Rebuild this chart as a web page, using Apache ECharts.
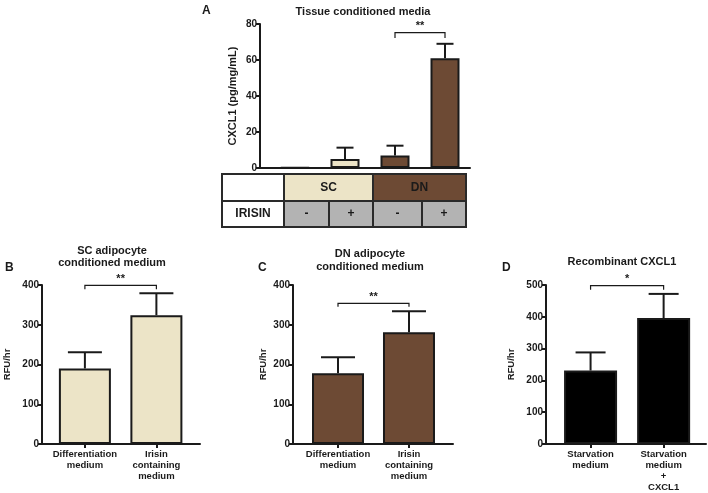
<!DOCTYPE html>
<html>
<head>
<meta charset="utf-8">
<script src="https://cdn.jsdelivr.net/npm/echarts@6/dist/echarts.min.js"></script>
<style>html,body{margin:0;padding:0;background:#fff}#c{width:708px;height:493px}</style>
</head>
<body>
<div id="c"></div>
<script>
// ---- data ----
const groupsA = ['SC -', 'SC +', 'DN -', 'DN +'];
const meanA = [0.3, 5, 7, 61];
const semA = [0, 6.3, 5.4, 8];
const tableHead = ['SC', 'DN'];
const irisinRow = ['-', '+', '-', '+'];

const catsB = ['Differentiation\nmedium', 'Irisin\ncontaining\nmedium'];
const meanB = [190, 324];
const semB = [41, 55];

const catsC = ['Differentiation\nmedium', 'Irisin\ncontaining\nmedium'];
const meanC = [178, 281];
const semC = [40, 53];

const catsD = ['Starvation\nmedium', 'Starvation\nmedium\n+\nCXCL1'];
const meanD = [231, 396];
const semD = [57, 76];

const ticksA = [0, 20, 40, 60, 80];
const ticksB = [0, 100, 200, 300, 400];
const ticksC = [0, 100, 200, 300, 400];
const ticksD = [0, 100, 200, 300, 400, 500];

const sigA = [[2, 3, 75.2, 3, '**']];
const sigB = [[0, 1, 399, 10, '**']];
const sigC = [[0, 1, 354, 9, '**']];
const sigD = [[0, 1, 498, 13, '*']];

// ---- styles ----
const FONT = 'Liberation Sans, Arial, Helvetica, sans-serif';
const INK = '#1a1a1a';
const BEIGE = '#ECE4C7';
const BROWN = '#6D4A34';
const GREY = '#B3B3B3';

const panels = [
  {grid:{left:260, top:24, width:210, height:144}, xmin:-0.7, xmax:3.5, ticks:ticksA,
   names:null, means:meanA, sems:semA, colors:[INK, BEIGE, BROWN, BROWN], barWidth:29, cap:17,
   sig:sigA, yName:'CXCL1 (pg/mg/mL)', nameGap:22, nameSize:11},
  {grid:{left:42, top:285, width:158, height:159}, xmin:-0.6, xmax:1.61, ticks:ticksB,
   names:catsB, means:meanB, sems:semB, colors:[BEIGE, BEIGE], barWidth:52, cap:34,
   sig:sigB, yName:'RFU/hr', nameGap:30, nameSize:9.5},
  {grid:{left:293, top:285, width:160, height:159}, xmin:-0.634, xmax:1.62, ticks:ticksC,
   names:catsC, means:meanC, sems:semC, colors:[BROWN, BROWN], barWidth:52, cap:34,
   sig:sigC, yName:'RFU/hr', nameGap:25, nameSize:9.5},
  {grid:{left:546, top:285, width:160, height:160}, xmin:-0.61, xmax:1.58, ticks:ticksD,
   names:catsD, means:meanD, sems:semD, colors:['#000', '#000'], barWidth:53, cap:30,
   sig:sigD, yName:'RFU/hr', nameGap:30, nameSize:9.5}
];

function errRender(cap) {
  return function (params, api) {
    const x = api.value(0), m = api.value(1), s = api.value(2);
    if (!s) return null;
    const a = api.coord([x, m]), b = api.coord([x, m + s]);
    return {type:'group', children:[
      {type:'line', shape:{x1:a[0], y1:a[1], x2:b[0], y2:b[1]}, style:{stroke:INK, lineWidth:2}},
      {type:'line', shape:{x1:b[0]-cap/2, y1:b[1], x2:b[0]+cap/2, y2:b[1]}, style:{stroke:INK, lineWidth:2}}
    ]};
  };
}
function sigRender(params, api) {
  const f = api.value(0), t = api.value(1), y = api.value(2), d = api.value(3);
  const label = sigData[params.seriesIndex][params.dataIndex][4];
  const p1 = api.coord([f, y - d]), p2 = api.coord([f, y]), p3 = api.coord([t, y]), p4 = api.coord([t, y - d]);
  return {type:'group', children:[
    {type:'polyline', shape:{points:[p1, p2, p3, p4]}, style:{stroke:INK, lineWidth:1.2, fill:null}},
    {type:'text', x:(p2[0]+p3[0])/2, y:p2[1]-1, style:{text:label, textAlign:'center', textVerticalAlign:'bottom',
      font:'bold 11px ' + FONT, fill:INK}}
  ]};
}

const grids = [], xAxes = [], yAxes = [], series = [];
const sigData = {};
panels.forEach((p, i) => {
  grids.push(Object.assign({}, p.grid));
  const idx = p.means.map((_, k) => k);
  xAxes.push({
    type:'value', gridIndex:i, min:p.xmin, max:p.xmax,
    axisLine:{show:true, onZero:false, lineStyle:{color:INK, width:2}},
    axisTick:{show:!!p.names, customValues:idx, length:4, lineStyle:{color:INK, width:2}},
    axisLabel:{show:!!p.names, customValues:idx, margin:5, interval:0,
      formatter: v => p.names ? p.names[Math.round(v)] : '',
      fontFamily:FONT, fontWeight:'bold', fontSize:9.5, lineHeight:11, color:INK},
    splitLine:{show:false}
  });
  const tk = p.ticks;
  yAxes.push({
    type:'value', gridIndex:i, min:tk[0], max:tk[tk.length-1], interval:tk[1]-tk[0],
    name:p.yName, nameLocation:'middle', nameGap:p.nameGap, nameRotate:90,
    nameTextStyle:{fontFamily:FONT, fontWeight:'bold', fontSize:p.nameSize, color:INK},
    axisLine:{show:true, onZero:false, lineStyle:{color:INK, width:2}},
    axisTick:{show:true, length:4, lineStyle:{color:INK, width:2}},
    axisLabel:{margin:3, fontFamily:FONT, fontWeight:'bold', fontSize:10, color:INK},
    splitLine:{show:false}
  });
  series.push({
    type:'bar', xAxisIndex:i, yAxisIndex:i, barWidth:p.barWidth, animation:false,
    data:p.means.map((m, k) => ({value:[k, m], itemStyle:{color:p.colors[k]}})),
    itemStyle:{borderColor:INK, borderWidth:2}
  });
  series.push({
    type:'custom', xAxisIndex:i, yAxisIndex:i, animation:false, z:5,
    renderItem:errRender(p.cap),
    data:p.means.map((m, k) => [k, m, p.sems[k]])
  });
  sigData[series.length] = p.sig;
  series.push({
    type:'custom', xAxisIndex:i, yAxisIndex:i, animation:false, z:6,
    renderItem:sigRender,
    data:p.sig.map(s => [s[0], s[1], s[2], s[3]])
  });
});

// ---- table & texts (layout) ----
const colX = [222, 284, 329, 373, 422, 466];
const rowY = [174, 201, 227];
const gfx = [];
function cell(x1, x2, y1, y2, fill, text, size) {
  gfx.push({type:'rect', shape:{x:x1, y:y1, width:x2-x1, height:y2-y1},
    style:{fill:fill, stroke:'#2a2a2a', lineWidth:2}, z:10});
  if (text) gfx.push({type:'text', x:(x1+x2)/2, y:(y1+y2)/2,
    style:{text:text, textAlign:'center', textVerticalAlign:'middle', font:'bold ' + size + 'px ' + FONT, fill:INK}, z:11});
}
cell(colX[0], colX[1], rowY[0], rowY[1], '#fff', '', 12);
cell(colX[1], colX[3], rowY[0], rowY[1], BEIGE, tableHead[0], 12);
cell(colX[3], colX[5], rowY[0], rowY[1], BROWN, tableHead[1], 12);
cell(colX[0], colX[1], rowY[1], rowY[2], '#fff', 'IRISIN', 12);
irisinRow.forEach((s, k) => cell(colX[k+1], colX[k+2], rowY[1], rowY[2], GREY, s, 12));

function txt(x, y, t, size, align) {
  gfx.push({type:'text', x:x, y:y, style:{text:t, textAlign:align||'center', textVerticalAlign:'middle',
    font:'bold ' + size + 'px ' + FONT, fill:INK}, z:11});
}
txt(363, 12, 'Tissue conditioned media', 11);
txt(202, 11, 'A', 12, 'left');
txt(112, 251, 'SC adipocyte', 11);
txt(112, 263, 'conditioned medium', 11);
txt(5, 268, 'B', 12, 'left');
txt(370, 254, 'DN adipocyte', 11);
txt(370, 267, 'conditioned medium', 11);
txt(258, 268, 'C', 12, 'left');
txt(622, 262, 'Recombinant CXCL1', 11);
txt(502, 268, 'D', 12, 'left');

const chart = echarts.init(document.getElementById('c'), null, {renderer:'canvas'});
chart.setOption({
  animation:false,
  backgroundColor:'#fff',
  grid:grids, xAxis:xAxes, yAxis:yAxes, series:series,
  graphic:gfx
});
</script>
</body>
</html>
